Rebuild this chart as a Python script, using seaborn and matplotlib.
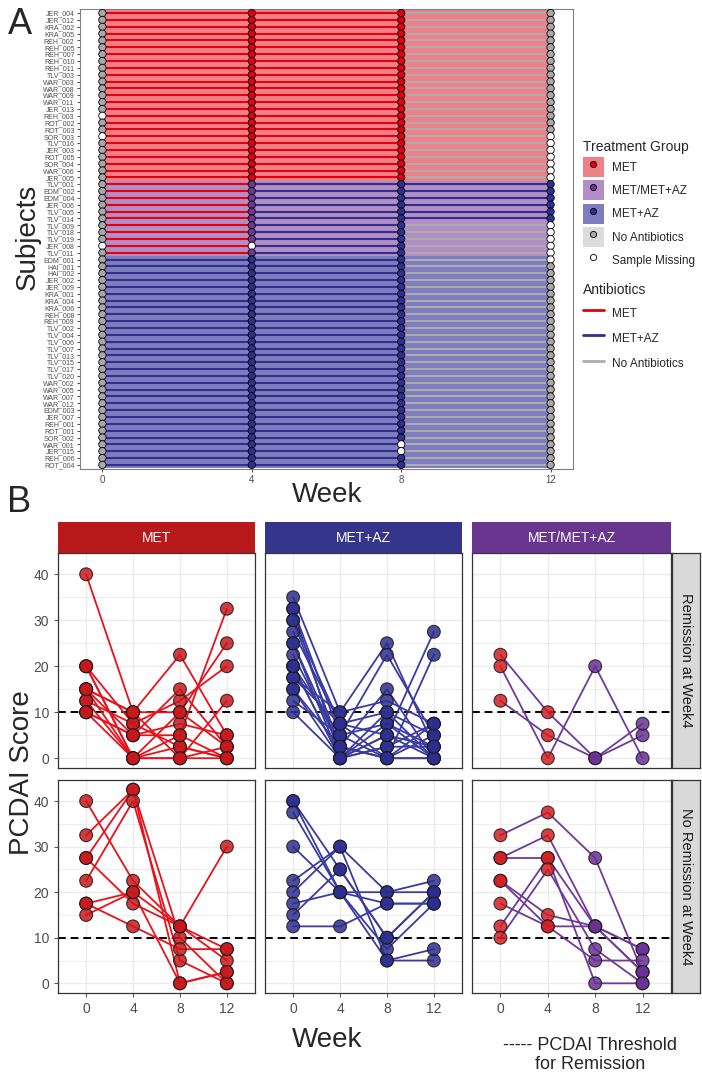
import numpy as np
import pandas as pd
import matplotlib
matplotlib.use('Agg')
import matplotlib.pyplot as plt
from matplotlib.patches import Patch
from matplotlib.lines import Line2D
from matplotlib.legend_handler import HandlerTuple
import seaborn as sns

sns.set_theme(style='white')
plt.rcParams['font.family'] = ['Liberation Sans', 'DejaVu Sans']

W, H = 702, 1076

# ---------------- panel A data ----------------
subjects_met = ['JER_004', 'JER_012', 'KRA_002', 'KRA_005', 'REH_002', 'REH_005', 'REH_007',
                'REH_010', 'REH_011', 'TLV_003', 'WAR_003', 'WAR_008', 'WAR_009', 'WAR_011',
                'JER_013', 'REH_003', 'ROT_002', 'ROT_003', 'SOR_003', 'TLV_016', 'JER_003',
                'ROT_005', 'SOR_004', 'WAR_006', 'JER_005']
subjects_switch = ['TLV_001', 'EDM_002', 'EDM_004', 'JER_006', 'TLV_005', 'TLV_014', 'TLV_009',
                   'TLV_018', 'TLV_019', 'JER_008', 'TLV_011']
subjects_az = ['EDM_001', 'HAI_001', 'HAI_002', 'JER_002', 'JER_009', 'KRA_001', 'KRA_004',
               'KRA_006', 'REH_008', 'REH_009', 'TLV_002', 'TLV_004', 'TLV_006', 'TLV_007',
               'TLV_013', 'TLV_015', 'TLV_017', 'TLV_020', 'WAR_002', 'WAR_005', 'WAR_007',
               'WAR_012', 'EDM_003', 'JER_007', 'REH_001', 'ROT_001', 'SOR_002', 'WAR_001',
               'JER_015', 'REH_006', 'ROT_004']
weeks = [0, 4, 8, 12]
missing_wk0 = ['REH_003', 'SOR_003', 'JER_008']
missing_wk4 = ['JER_008']
missing_wk8 = ['WAR_001', 'JER_015']
missing_wk12 = ['SOR_003', 'TLV_016', 'JER_003', 'ROT_005', 'SOR_004', 'WAR_006', 'JER_005',
                'TLV_009', 'TLV_018', 'TLV_019', 'JER_008', 'TLV_011', 'EDM_001']
az_wk12 = ['TLV_001', 'EDM_002', 'EDM_004', 'JER_006', 'TLV_005', 'TLV_014']
abx_plan = {'MET': ['MET', 'MET', 'No Antibiotics'],
            'MET/MET+AZ': ['MET', 'MET+AZ', 'MET+AZ'],
            'MET+AZ': ['MET+AZ', 'MET+AZ', 'No Antibiotics']}
visit_status = {'MET': ['MET', 'MET'],
                'MET/MET+AZ': ['MET/MET+AZ', 'MET+AZ'],
                'MET+AZ': ['MET+AZ', 'MET+AZ']}

# ---------------- panel B data (PCDAI at week 0, 4, 8, 12) ----------------
met_rem = [[40, 10, 22.5, 5], [20, 0, 10, 25], [20, 7.5, 12.5, 20], [15, 5, 15, 2.5],
           [15, 0, 5, 32.5], [15, 10, 0, 12.5], [12.5, 7.5, 2.5, 0], [12.5, 0, 0, 2.5],
           [10, 5, 7.5, 5], [10, 0, 2.5, 0], [15, 10, 10, 2.5], [20, 0, 0, 0], [10, 5, 5, 0]]
az_rem = [[35, 10, 25, 2.5], [32.5, 0, 5, 27.5], [32.5, 5, 22.5, 5], [30, 2.5, 0, 22.5],
          [27.5, 7.5, 10, 0], [25, 0, 2.5, 7.5], [22.5, 2.5, 15, 0], [20, 5, 0, 5],
          [20, 0, 7.5, 2.5], [17.5, 10, 12.5, 7.5], [17.5, 7.5, 5, 0], [15, 0, 2.5, 2.5],
          [15, 2.5, 0, 0], [12.5, 5, 7.5, 0], [10, 0, 10, 5], [30, 7.5, 0, 0],
          [25, 2.5, 0, 7.5], [20, 0, 5, 2.5]]
sw_rem = [[22.5, 10, 0, 5], [20, 0, 20, 0], [12.5, 5, 0, 7.5]]
met_non = [[40, 22.5, 12.5, 7.5], [32.5, 42.5, 0, 2.5], [27.5, 42.5, 10, 0],
           [27.5, 17.5, 12.5, 5], [22.5, 40, 5, 0], [17.5, 20, 12.5, 30],
           [17.5, 12.5, 7.5, 7.5], [15, 20, 0, 2.5]]
az_non = [[40, 20, 5, 5], [40, 25, 10, 20], [37.5, 20, 7.5, 17.5], [30, 20, 20, 20],
          [22.5, 30, 5, 7.5], [20, 30, 20, 22.5], [17.5, 20, 17.5, 17.5], [15, 25, 10, 20],
          [12.5, 12.5, 17.5, 17.5]]
sw_non = [[32.5, 37.5, 27.5, 2.5], [27.5, 32.5, 12.5, 7.5], [27.5, 27.5, 0, 0],
          [22.5, 15, 12.5, 7.5], [22.5, 12.5, 12.5, 2.5], [17.5, 12.5, 5, 5],
          [12.5, 27.5, 12.5, 2.5], [10, 25, 7.5, 0]]
facet_cols = ['MET', 'MET+AZ', 'MET/MET+AZ']
facet_rows = ['Remission at Week4', 'No Remission at Week4']
facet_data = {('MET', 0): met_rem, ('MET+AZ', 0): az_rem, ('MET/MET+AZ', 0): sw_rem,
              ('MET', 1): met_non, ('MET+AZ', 1): az_non, ('MET/MET+AZ', 1): sw_non}
threshold = 10

# ---------------- styles ----------------
bg_colors = {'MET': '#EF8088', 'MET/MET+AZ': '#B28DC6', 'MET+AZ': '#7D7DBF'}
line_colors = {'MET': '#E5000B', 'MET+AZ': '#2F2F8C', 'No Antibiotics': '#ADADAD'}
dot_colors = {'MET': '#E00010', 'MET/MET+AZ': '#6B3795', 'MET+AZ': '#2F2F8F',
              'No Antibiotics': '#A8A8A8', 'Sample Missing': '#FFFFFF'}
strip_colors = {'MET': '#B8191B', 'MET+AZ': '#35358B', 'MET/MET+AZ': '#6A358E'}
facet_line = {'MET': '#E8121B', 'MET+AZ': '#3B3BA0', 'MET/MET+AZ': '#6E3A9B'}
facet_dot = {'MET': '#C8181C', 'MET+AZ': '#2E2E90', 'MET/MET+AZ': '#6A3094', 'MET0': '#D41E22'}

fig = plt.figure(figsize=(W / 100, H / 100), dpi=100)


def box(x0, y0, x1, y1):
    return [x0 / W, 1 - y1 / H, (x1 - x0) / W, (y1 - y0) / H]


# ---------------- panel A ----------------
subjects = subjects_met + subjects_switch + subjects_az
groups = (['MET'] * len(subjects_met) + ['MET/MET+AZ'] * len(subjects_switch)
          + ['MET+AZ'] * len(subjects_az))
subj = pd.DataFrame({'subject': subjects, 'group': groups, 'row': np.arange(len(subjects))})
missing = {0: missing_wk0, 4: missing_wk4, 8: missing_wk8, 12: missing_wk12}

segs, pts = [], []
for _, r in subj.iterrows():
    plan = list(abx_plan[r['group']])
    if r['group'] == 'MET/MET+AZ' and r['subject'] not in az_wk12:
        plan[2] = 'No Antibiotics'
    for (a, b), abx in zip([(0, 4), (4, 8), (8, 12)], plan):
        segs.append((r['row'], a, b, abx))
    for wk in weeks:
        if r['subject'] in missing[wk]:
            st = 'Sample Missing'
        elif wk == 0:
            st = 'No Antibiotics'
        elif wk == 12:
            st = 'MET+AZ' if r['subject'] in az_wk12 else 'No Antibiotics'
        else:
            st = visit_status[r['group']][weeks.index(wk) - 1]
        pts.append((r['row'], wk, st))
segs = pd.DataFrame(segs, columns=['row', 'start', 'end', 'abx'])
pts = pd.DataFrame(pts, columns=['row', 'week', 'status'])

axA = fig.add_axes(box(80, 9, 573, 469))
axA.barh(subj['row'], 12, left=0, height=1.0, color=subj['group'].map(bg_colors), linewidth=0)
for abx, d in segs.groupby('abx'):
    axA.hlines(d['row'], d['start'], d['end'], colors=line_colors[abx], lw=1.5)
sns.scatterplot(data=pts, x='week', y='row', hue='status', palette=dot_colors, s=28,
                edgecolor='black', linewidth=0.6, legend=False, ax=axA, zorder=3, clip_on=False)
axA.set_xlim(-0.6, 12.6)
axA.set_ylim(len(subjects) - 0.4, -0.6)
axA.set_yticks(subj['row'])
axA.set_yticklabels(subjects, fontsize=5, color='#4D4D4D')
axA.set_xticks(weeks)
axA.set_xticklabels(weeks, fontsize=7, color='#4D4D4D')
axA.tick_params(length=2.5, width=0.6, color='#333333', pad=1.5, left=True, bottom=True)
axA.set_xlabel('')
axA.set_ylabel('')
for sp in axA.spines.values():
    sp.set_color('#808080')
    sp.set_linewidth(0.8)

fig.text(327 / W, 1 - 495 / H, 'Week', fontsize=20, ha='center', va='center')
fig.text(28 / W, 1 - 237 / H, 'Subjects', fontsize=20, ha='center', va='center', rotation=90)
fig.text(8 / W, 1 - 24 / H, 'A', fontsize=26, ha='left', va='center')
fig.text(7 / W, 1 - 503 / H, 'B', fontsize=26, ha='left', va='center')

# legends
tg_labels = ['MET', 'MET/MET+AZ', 'MET+AZ', 'No Antibiotics', 'Sample Missing']
tg_bg = [bg_colors['MET'], bg_colors['MET/MET+AZ'], bg_colors['MET+AZ'], '#DCDCDC', 'none']
tg_handles = [(Patch(facecolor=bg, edgecolor='none'),
               Line2D([], [], ls='', marker='o', markersize=4.5, markerfacecolor=dot_colors[lab],
                      markeredgecolor='black', markeredgewidth=0.6))
              for lab, bg in zip(tg_labels, tg_bg)]
leg1 = fig.legend(tg_handles, tg_labels, title='Treatment Group', loc='upper left',
                  bbox_to_anchor=(572 / W, 1 - 129 / H), frameon=False, fontsize=8.5,
                  title_fontsize=10, handler_map={tuple: HandlerTuple(ndivide=1)},
                  handlelength=1.8, handleheight=2.2, labelspacing=0.3, handletextpad=0.7,
                  alignment='left')
ab_labels = ['MET', 'MET+AZ', 'No Antibiotics']
ab_handles = [Line2D([], [], color=line_colors[k], lw=2) for k in ab_labels]
leg2 = fig.legend(ab_handles, ab_labels, title='Antibiotics', loc='upper left',
                  bbox_to_anchor=(572 / W, 1 - 272 / H), frameon=False, fontsize=8.5,
                  title_fontsize=10, handlelength=1.8, handleheight=2.0, labelspacing=0.6,
                  handletextpad=0.7, alignment='left')

# ---------------- panel B ----------------
col_x = [(58, 255), (265, 462), (472, 671)]
row_y = [(553, 768), (780, 993)]
for ri, (y0, y1) in enumerate(row_y):
    for ci, (x0, x1) in enumerate(col_x):
        name = facet_cols[ci]
        vals = facet_data[(name, ri)]
        long = []
        for si, v in enumerate(vals):
            for wk, sc in zip(weeks, v):
                if name == 'MET/MET+AZ':
                    grp = 'MET0' if wk <= 4 else 'MET/MET+AZ'
                else:
                    grp = name
                long.append((si, wk, sc, grp))
        d = pd.DataFrame(long, columns=['subj', 'week', 'score', 'abx']).dropna()
        ax = fig.add_axes(box(x0, y0, x1, y1))
        ax.set_facecolor('white')
        ax.set_axisbelow(True)
        ax.set_yticks([0, 10, 20, 30, 40])
        ax.set_yticks([5, 15, 25, 35], minor=True)
        ax.set_xticks(weeks)
        ax.grid(which='major', color='#EBEBEB', lw=1.0)
        ax.grid(which='minor', axis='y', color='#EBEBEB', lw=0.6)
        ax.axhline(threshold, color='black', lw=1.4, ls=(0, (4, 2.5)), zorder=1)
        sns.lineplot(data=d, x='week', y='score', units='subj', estimator=None,
                     color=facet_line[name], lw=1.3, ax=ax, legend=False, zorder=2)
        sns.scatterplot(data=d, x='week', y='score', hue='abx', palette=facet_dot, s=85,
                        alpha=0.85, edgecolor='#1A1A1A', linewidth=0.8, ax=ax,
                        legend=False, zorder=3)
        ax.set_xlim(-2.4, 14.4)
        ax.set_ylim(-2.125, 44.625)
        ax.set_xlabel('')
        ax.set_ylabel('')
        ax.tick_params(which='major', length=3, width=0.6, color='#333333',
                       labelcolor='#4D4D4D', labelsize=10, left=(ci == 0), bottom=(ri == 1))
        ax.tick_params(which='minor', length=0)
        if ci != 0:
            ax.set_yticklabels([])
        if ri != 1:
            ax.set_xticklabels([])
        for sp in ax.spines.values():
            sp.set_color('#333333')
            sp.set_linewidth(0.9)
        if ri == 0:
            st = fig.add_axes(box(x0, 522, x1, 553))
            st.set_facecolor(strip_colors[name])
            st.set_xticks([])
            st.set_yticks([])
            for sp in st.spines.values():
                sp.set_visible(False)
            st.text(0.5, 0.5, name, color='white', fontsize=10, ha='center', va='center',
                    transform=st.transAxes)
    rs = fig.add_axes(box(672, y0, 700, y1))
    rs.set_facecolor('#D9D9D9')
    rs.set_xticks([])
    rs.set_yticks([])
    for sp in rs.spines.values():
        sp.set_color('#333333')
        sp.set_linewidth(0.9)
    rs.text(0.5, 0.5, facet_rows[ri], rotation=-90, fontsize=10.5, color='#1A1A1A',
            ha='center', va='center', transform=rs.transAxes)

fig.text(22 / W, 1 - 773 / H, 'PCDAI Score', fontsize=20, ha='center', va='center', rotation=90)
fig.text(327 / W, 1 - 1040 / H, 'Week', fontsize=20, ha='center', va='center')
fig.text(590 / W, 1 - 1055 / H, '----- PCDAI Threshold\nfor Remission', fontsize=13,
         ha='center', va='center', linespacing=1.2)

fig.savefig('out.png', dpi=100)
